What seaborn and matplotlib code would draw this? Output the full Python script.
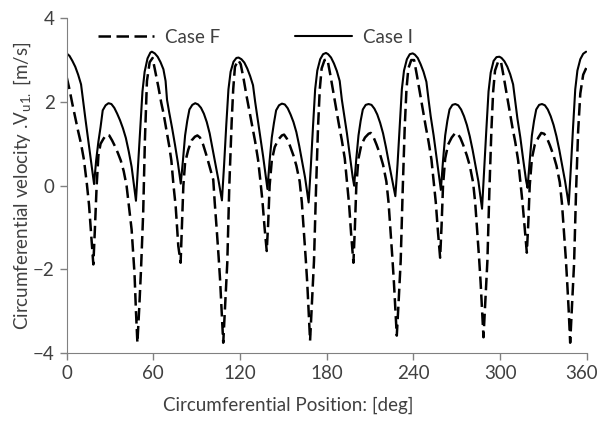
import matplotlib
matplotlib.use('Agg')
import matplotlib.pyplot as plt
import matplotlib.transforms as mtransforms
import seaborn as sns
import pandas as pd

# Case I (solid line)
deg_i = [0, 2, 4, 6, 8, 10, 11.5, 13, 15, 17, 19, 20.5, 22, 23.5, 25, 27, 29, 31, 33, 35, 37, 39, 41, 43, 45, 46.5, 48, 49.5, 51, 52.5, 54, 56, 58, 59,
         61, 63, 65, 67, 68.5, 69.5, 71, 73, 75, 77, 79, 80.5, 82, 83.5, 85, 87, 89, 91, 93, 95, 97, 99, 101, 103, 105, 107.5, 109, 110.5, 112, 113.5, 115.5, 117.5, 119,
         121, 123, 125, 127, 129, 130.5, 132, 134, 136, 138, 139, 140.5, 142, 143.5, 145, 147, 149, 151, 153, 155, 157, 159, 161, 163, 165, 167.5, 169, 170.5, 172, 173.5, 175.5, 177.5, 179.5,
         181, 183, 185, 187, 189, 190.5, 192, 194, 196, 198, 199, 200.5, 202, 203.5, 205, 207, 209, 211, 213, 215, 217, 219, 221, 223, 225, 227.5, 229, 230.5, 232, 233.5, 235.5, 237.5, 239.5,
         241, 243, 245, 247, 249, 250.5, 252, 254, 256, 258, 259, 260.5, 262, 263.5, 265, 267, 269, 271, 273, 275, 277, 279, 281, 283, 285, 287.5, 289, 290.5, 292, 293.5, 295.5, 297.5, 299.5,
         301, 303, 305, 307, 309, 310.5, 312, 314, 316, 318, 319, 320.5, 322, 323.5, 325, 327, 329, 331, 333, 335, 337, 339, 341, 343, 345, 347.5, 349, 350.5, 352, 353.5, 355.5, 357.5, 359.5]
vel_i = [3.16, 3.1, 2.98, 2.84, 2.65, 2.42, 2.0, 1.6, 1.08, 0.55, 0.04, 0.62, 1.05, 1.4, 1.8, 1.92, 1.97, 1.95, 1.86, 1.72, 1.56, 1.37, 1.14, 0.82, 0.45, 0.05, -0.36, 0.5, 1.35, 2.25, 2.72, 3.04, 3.18, 3.2,
         3.16, 3.08, 2.95, 2.78, 2.5, 2.05, 1.75, 1.38, 0.98, 0.55, 0.05, 0.6, 1.2, 1.55, 1.82, 1.93, 1.97, 1.94, 1.86, 1.72, 1.52, 1.25, 0.88, 0.5, 0.15, -0.35, 0.5, 1.45, 2.3, 2.72, 2.96, 3.05, 3.06,
         3.02, 2.94, 2.8, 2.62, 2.4, 2.0, 1.65, 1.2, 0.7, 0.18, -0.08, 0.6, 1.15, 1.5, 1.8, 1.92, 1.96, 1.94, 1.85, 1.7, 1.52, 1.28, 0.95, 0.58, 0.2, -0.4, 0.45, 1.4, 2.3, 2.75, 3.02, 3.14, 3.17,
         3.14, 3.06, 2.92, 2.74, 2.5, 2.05, 1.7, 1.25, 0.72, 0.2, 0.0, 0.65, 1.2, 1.55, 1.82, 1.93, 1.95, 1.93, 1.84, 1.7, 1.5, 1.25, 0.92, 0.55, 0.2, -0.25, 0.5, 1.4, 2.3, 2.75, 3.02, 3.14, 3.16,
         3.13, 3.05, 2.9, 2.72, 2.48, 2.05, 1.65, 1.2, 0.68, 0.15, -0.1, 0.6, 1.2, 1.55, 1.82, 1.93, 1.95, 1.92, 1.82, 1.66, 1.45, 1.18, 0.85, 0.48, 0.1, -0.55, 0.4, 1.35, 2.25, 2.7, 2.98, 3.07, 3.08,
         3.05, 2.97, 2.84, 2.66, 2.42, 2.0, 1.6, 1.15, 0.62, 0.12, -0.05, 0.6, 1.2, 1.55, 1.82, 1.93, 1.95, 1.92, 1.82, 1.66, 1.45, 1.18, 0.85, 0.48, 0.1, -0.45, 0.45, 1.4, 2.3, 2.75, 3.02, 3.15, 3.2]

# Case F (dashed line)
deg_f = [0, 2, 4, 6, 8, 10, 12, 14, 15.5, 17, 18.5, 19.5, 20.8, 22, 23.5, 25.5, 27.5, 29.5, 31.5, 33.5, 35.5, 37.5, 39.5, 41.5, 43, 45, 47, 48, 49, 50.3, 51.5, 53, 54.2, 55.6, 57.5, 59.5,
         61.5, 63.5, 65.5, 67, 69, 71, 72.5, 74, 75.5, 77.3, 78.9, 79.8, 80.8, 82, 84.2, 86.5, 88.8, 90.5, 92.3, 94.5, 97, 99, 101.5, 102.5, 103.9, 105.2, 106.2, 107.3, 108.4, 109.8, 111.2, 112.6, 114.2, 115.3, 116.5, 118.8,
         120.5, 122.5, 124.5, 126.5, 128.5, 130.5, 132.5, 134, 135.5, 137, 138.5, 139.5, 140.5, 142, 144, 146.5, 149, 150.5, 152.5, 154.5, 157, 159, 161.3, 162.8, 164, 165.5, 166.5, 167.5, 168.5, 169.8, 171.2, 172.6, 174, 175.2, 176.5, 178.5, 180.5,
         182.5, 184.5, 186.5, 188.5, 190.5, 192.5, 194, 195.5, 197, 198.5, 199.5, 200.5, 202, 204, 206.5, 209, 210.5, 212.5, 214.5, 217, 219, 221.3, 222.8, 224, 225.5, 226.5, 227.5, 228.5, 229.8, 231.2, 232.6, 234, 235.2, 236.5, 238.5, 240.5,
         242.5, 244.5, 246.5, 248.5, 250.5, 252.5, 254, 255.5, 257, 258.5, 259.5, 260.5, 262, 264, 266.5, 269, 270.5, 272.5, 274.5, 277, 279, 281.3, 282.8, 284, 285.5, 286.5, 287.5, 288.5, 289.8, 291.2, 292.6, 294, 295.2, 296.5, 298.5, 300.5,
         302.5, 304.5, 306.5, 308.5, 310.5, 312.5, 314, 315.5, 317, 318.5, 319.5, 320.5, 322, 324, 326.5, 328.5, 330.5, 332.5, 334.5, 337, 339, 341.3, 342.8, 344, 345.5, 346.5, 347.5, 348.5, 349.8, 351.2, 352.6, 354, 355.5, 357.5, 360]
vel_f = [2.6, 2.3, 1.95, 1.62, 1.3, 1.0, 0.62, 0.05, -0.45, -1.15, -1.88, -1.1, 0.0, 0.72, 1.0, 1.12, 1.22, 1.2, 1.08, 0.94, 0.78, 0.6, 0.35, 0.0, -0.45, -1.05, -2.1, -3.0, -3.75, -2.9, -2.0, -0.65, 1.1, 2.5, 2.95, 3.05,
         2.7, 2.36, 1.98, 1.74, 1.35, 0.95, 0.6, 0.0, -0.5, -1.44, -1.84, -1.0, 0.0, 0.55, 0.86, 1.08, 1.17, 1.2, 1.15, 0.98, 0.7, 0.45, 0.14, -0.4, -1.05, -1.7, -2.24, -3.0, -3.75, -2.8, -1.84, 0.0, 1.5, 2.3, 2.84, 3.0,
         2.9, 2.55, 2.15, 1.78, 1.4, 1.05, 0.62, 0.15, -0.35, -1.0, -1.56, -0.9, 0.0, 0.6, 0.92, 1.1, 1.2, 1.22, 1.12, 0.96, 0.72, 0.48, 0.1, -0.4, -1.0, -1.75, -2.3, -3.0, -3.7, -2.8, -1.8, -0.1, 1.4, 2.3, 2.8, 3.0, 3.02,
         2.65, 2.25, 1.85, 1.45, 1.08, 0.65, 0.1, -0.45, -1.2, -1.84, -1.0, 0.0, 0.65, 0.98, 1.15, 1.24, 1.26, 1.15, 0.98, 0.74, 0.5, 0.1, -0.4, -1.0, -1.75, -2.3, -2.95, -3.58, -2.75, -1.8, -0.1, 1.4, 2.3, 2.8, 3.0, 3.0,
         2.62, 2.22, 1.82, 1.42, 1.05, 0.62, 0.1, -0.4, -1.1, -1.72, -0.95, 0.0, 0.65, 0.98, 1.15, 1.26, 1.25, 1.14, 0.97, 0.72, 0.48, 0.08, -0.42, -1.0, -1.75, -2.3, -2.95, -3.62, -2.75, -1.8, -0.1, 1.35, 2.25, 2.75, 2.95, 2.98,
         2.6, 2.2, 1.8, 1.4, 1.04, 0.6, 0.1, -0.4, -1.0, -1.6, -0.9, 0.0, 0.65, 0.98, 1.15, 1.26, 1.24, 1.13, 0.96, 0.72, 0.48, 0.08, -0.42, -1.0, -1.75, -2.35, -3.0, -3.75, -2.85, -1.85, -0.1, 1.3, 2.2, 2.65, 2.84]

x_ticks = [0, 60, 120, 180, 240, 300, 360]
y_ticks = [-4, -2, 0, 2, 4]

sns.set_style('ticks')
plt.rcParams['font.family'] = ['Lato', 'DejaVu Sans']

df_f = pd.DataFrame({'deg': deg_f, 'vel': vel_f})
df_i = pd.DataFrame({'deg': deg_i, 'vel': vel_i})

fig = plt.figure(figsize=(6, 4.23), dpi=100)
ax = fig.add_axes([0.111, 0.165, 0.867, 0.792])

sns.lineplot(data=df_f, x='deg', y='vel', ax=ax, color='black', lw=1.8,
             label='Case F', sort=False, estimator=None)
ax.lines[-1].set_dashes((5, 2.2))
sns.lineplot(data=df_i, x='deg', y='vel', ax=ax, color='black', lw=1.5,
             label='Case I', sort=False, estimator=None)

ax.set_xlim(0, 360)
ax.set_ylim(-4, 4)
ax.set_xticks(x_ticks)
ax.set_yticks(y_ticks)
ax.set_xlabel('Circumferential Position: [deg]', fontsize=13.5, color='#404040')
ax.set_ylabel('Circumferential velocity .V$_{\\mathregular{u1.}}$ [m/s]', fontsize=13.5, color='#404040')
ax.xaxis.set_label_coords(0.426, -0.13)
ax.yaxis.set_label_coords(-0.064, 0.5)
ax.tick_params(labelsize=13.5, labelcolor='#404040', color='#808080', length=5, width=1)
for s in ['top', 'right']:
    ax.spines[s].set_visible(False)
for s in ['left', 'bottom']:
    ax.spines[s].set_color('#808080')

# nudge the last tick label so it stays inside the figure
last = ax.get_xticklabels()[-1]
last.set_transform(last.get_transform() + mtransforms.ScaledTranslation(-4 / 72, 0, fig.dpi_scale_trans))

leg = ax.legend(loc='center left', bbox_to_anchor=(0.045, 0.943), ncol=2, frameon=False,
                fontsize=13.5, handlelength=3.0, columnspacing=4.0, handletextpad=0.6,
                borderaxespad=0)
for t in leg.get_texts():
    t.set_color('#404040')

fig.savefig('out.png', dpi=100)
